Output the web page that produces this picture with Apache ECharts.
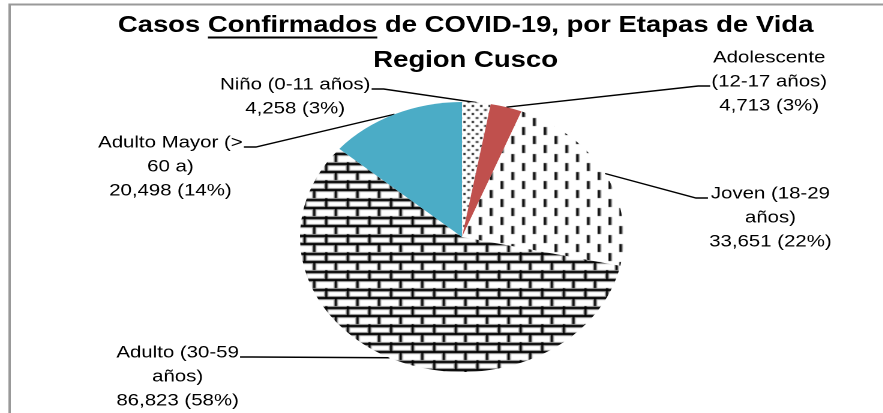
<!DOCTYPE html>
<html>
<head>
<meta charset="utf-8">
<script src="https://cdn.jsdelivr.net/npm/echarts@6/dist/echarts.min.js"></script>
<style>
html, body { margin: 0; padding: 0; background: #fff; overflow: hidden; }
/* el grafico original esta estirado en horizontal */
#chart { width: 736px; height: 413px; transform: scaleX(1.2); transform-origin: 0 0; }
</style>
</head>
<body>
<div id="chart"></div>
<script>
// datos
const etapas = ['Niño (0-11 años)', 'Adolescente\n(12-17 años)', 'Joven (18-29\naños)', 'Adulto (30-59\naños)', 'Adulto Mayor (>\n60 a)'];
const casos = [4258, 4713, 33651, 86823, 20498];

// posicion de las etiquetas (centro del bloque), lado y fila donde llega la linea guia
const labelPos = [[246, 97], [641, 82], [642, 218], [148, 377], [142, 167]];
const lineSide = ['right', 'left', 'left', 'right', 'right'];
const lineRow = [0, 1, 0, 0, 0];

const titleFont = 'bold 22.9px "Liberation Sans"';
const labelFont = '"Liberation Sans"';
const lineH = 24;

function tile(w, h, draw) {
    const c = document.createElement('canvas');
    c.width = w;
    c.height = h;
    const ctx = c.getContext('2d');
    ctx.fillStyle = '#fff';
    ctx.fillRect(0, 0, w, h);
    draw(ctx);
    return c;
}

// puntos
const dots = tile(7, 8, ctx => {
    ctx.fillStyle = '#222';
    ctx.fillRect(1, 1, 2, 2);
    ctx.fillRect(4.5, 5, 2, 2);
});
// guiones verticales
const dashes = tile(18, 18, ctx => {
    ctx.fillStyle = '#111';
    ctx.fillRect(3, 1, 2.5, 8);
    ctx.fillRect(12, 10, 2.5, 8);
});
// ladrillos
const bricks = tile(18, 18, ctx => {
    ctx.fillStyle = '#999';
    ctx.fillRect(0, 0, 18, 4);
    ctx.fillRect(0, 8, 18, 4);
    ctx.fillRect(0, 0, 3.5, 9);
    ctx.fillRect(8, 9, 3.5, 9);
    ctx.fillStyle = '#000';
    ctx.fillRect(0, 1, 18, 2);
    ctx.fillRect(0, 9, 18, 2);
    ctx.fillRect(1, 0, 1.7, 9);
    ctx.fillRect(9, 9, 1.7, 9);
});

const colores = [
    { image: dots, repeat: 'repeat' },
    '#C0504D',
    { image: dashes, repeat: 'repeat' },
    { image: bricks, repeat: 'repeat' },
    '#4BACC6'
];

let pieData = [];
for (let i = 0; i < etapas.length; i++) {
    pieData.push({
        name: etapas[i],
        value: casos[i],
        itemStyle: { color: colores[i] }
    });
}

// subrayado de "Confirmados"
const titleLine1 = 'Casos Confirmados de COVID-19, por Etapas de Vida';
const titleCx = 388;
const mctx = document.createElement('canvas').getContext('2d');
mctx.font = titleFont;
const fullW = mctx.measureText(titleLine1).width;
const preW = mctx.measureText('Casos ').width;
const wordW = mctx.measureText('Confirmados').width;
const ulX = titleCx - fullW / 2 + preW;

const chart = echarts.init(document.getElementById('chart'), null, { devicePixelRatio: 2 });
chart.setOption({
    backgroundColor: '#fff',
    animation: false,
    title: {
        text: titleLine1 + '\nRegion Cusco',
        left: titleCx,
        textAlign: 'center',
        top: 8,
        padding: 0,
        textStyle: {
            fontFamily: 'Liberation Sans',
            fontWeight: 'bold',
            fontSize: 22.9,
            lineHeight: 35,
            color: '#000'
        }
    },
    graphic: [
        {
            type: 'rect',
            shape: { x: 8, y: 4.5, width: 800, height: 500 },
            style: { fill: null, stroke: '#999', lineWidth: 2 },
            silent: true
        },
        {
            type: 'line',
            shape: { x1: ulX, y1: 37.5, x2: ulX + wordW, y2: 37.5 },
            style: { stroke: '#000', lineWidth: 2 },
            silent: true
        }
    ],
    series: [
        {
            type: 'pie',
            center: [385, 237],
            radius: 135,
            startAngle: 90,
            clockwise: true,
            percentPrecision: 0,
            data: pieData,
            itemStyle: { borderWidth: 0 },
            emphasis: { disabled: true },
            label: {
                show: true,
                position: 'outside',
                formatter: p => p.name + '\n' + p.value.toLocaleString('en-US') + ' (' + p.percent + '%)',
                fontFamily: labelFont,
                fontSize: 17,
                lineHeight: lineH,
                color: '#000',
                align: 'center'
            },
            labelLine: {
                show: true,
                length: 10,
                length2: 10,
                lineStyle: { color: '#000', width: 1.4 }
            },
            labelLayout: function (params) {
                const i = params.dataIndex;
                const pos = labelPos[i];
                const w = params.labelRect.width;
                const h = params.labelRect.height;
                const top = pos[1] - h / 2;
                const ay = top + lineRow[i] * lineH + 16;
                const ax = lineSide[i] === 'right' ? pos[0] + w / 2 + 1 : pos[0] - w / 2 - 1;
                const bx = lineSide[i] === 'right' ? ax + 10 : ax - 10;
                const p0 = params.labelLinePoints[0];
                return {
                    x: pos[0],
                    y: pos[1],
                    align: 'center',
                    verticalAlign: 'middle',
                    labelLinePoints: [p0, [bx, ay], [ax, ay]]
                };
            }
        }
    ]
});
</script>
</body>
</html>
